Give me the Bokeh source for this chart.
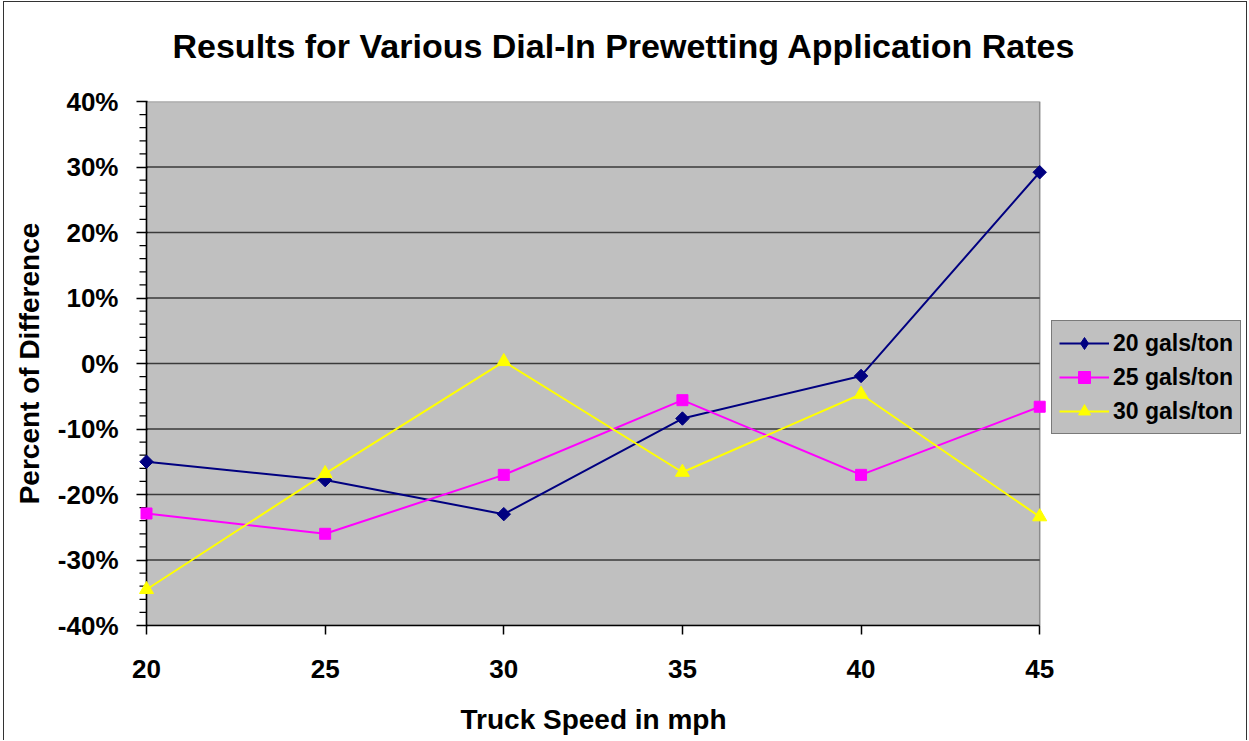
import math
from bokeh.plotting import figure
from bokeh.models import Range1d, FixedTicker, PrintfTickFormatter, Legend, LegendItem, Title, ColumnDataSource
from bokeh.embed import file_html
from bokeh.resources import INLINE

# ---- data ----
speeds = [20, 25, 30, 35, 40, 45]
rate_20 = [-15.0, -17.8, -23.0, -8.4, -1.9, 29.2]
rate_25 = [-22.9, -26.0, -17.0, -5.6, -17.0, -6.6]
rate_30 = [-34.5, -16.8, 0.3, -16.6, -4.7, -23.4]
series_labels = ["20 gals/ton", "25 gals/ton", "30 gals/ton"]
y_ticks = [-40, -30, -20, -10, 0, 10, 20, 30, 40]
y_minor_ticks = [v for v in range(-40, 41, 2) if v not in y_ticks]
x_ticks = speeds
title_text = "Results for Various Dial-In Prewetting Application Rates"
x_label = "Truck Speed in mph"
y_label = "Percent of Difference"

FONT = "Liberation Sans"
x_min, x_max = x_ticks[0], x_ticks[-1]
y_min, y_max = y_ticks[0], y_ticks[-1]
pad = 0.28          # room so edge markers are not cut
x_end = 50.76       # frame extends right so the legend sits inside it
minor_len = 0.196   # minor tick length in x data units (~7px)

p = figure(width=1244, height=739, output_backend="svg", toolbar_location=None, title=None,
           x_range=Range1d(x_min - pad, x_end), y_range=Range1d(y_min, y_max),
           min_border_left=132, min_border_right=3, min_border_top=99, min_border_bottom=116,
           background_fill_color="white", border_fill_color="white")
p.outline_line_color = None
p.xgrid.grid_line_color = None
p.ygrid.grid_line_color = None
p.styles = {"border-left": "1.5px solid #333333", "border-top": "1.5px solid #333333",
            "border-right": "1.5px solid #333333", "margin-left": "3px", "margin-top": "1px"}

# plot area background
p.quad(left=[x_min], right=[x_max], bottom=[y_min], top=[y_max],
       fill_color="#C0C0C0", line_color="#8c8c8c", line_width=1.5)
# gridlines
grid_y = y_ticks[1:-1]
p.segment(x0=[x_min] * len(grid_y), x1=[x_max] * len(grid_y), y0=grid_y, y1=grid_y,
          line_color="#3a3a3a", line_width=1.3)
# y axis line and minor ticks at x_min
p.segment(x0=[x_min], x1=[x_min], y0=[y_min], y1=[y_max], line_color="black", line_width=1.5)
p.segment(x0=[x_min - minor_len] * len(y_minor_ticks), x1=[x_min] * len(y_minor_ticks),
          y0=y_minor_ticks, y1=y_minor_ticks, line_color="black", line_width=1.2)

colors = ["#000080", "#FF00FF", "#FFFF00"]
markers = ["square", "square", "triangle"]
legend_markers = ["diamond", "square", "triangle"]
sizes = [9.5, 11, 14]
legend_sizes = [15, 11, 14]
angles = [math.pi / 4, 0, 0]
nan = float("nan")
legend_src = ColumnDataSource(data=dict(x=[nan], y=[nan]))
items = []
for vals, lab, c, m, lm, s, ls, a in zip([rate_20, rate_25, rate_30], series_labels, colors,
                                         markers, legend_markers, sizes, legend_sizes, angles):
    lr = p.line(speeds, vals, line_color=c, line_width=2)
    p.scatter(speeds, vals, marker=m, size=s, angle=a, fill_color=c, line_color=c)
    lg = p.scatter("x", "y", source=legend_src, marker=lm, size=ls, fill_color=c, line_color=c)
    items.append(LegendItem(label=lab, renderers=[lr, lg]))

legend = Legend(items=items, location=(915, 191), background_fill_color="#C0C0C0",
                background_fill_alpha=1.0, border_line_color="#333333", border_line_width=1.5,
                label_text_font=FONT, label_text_font_style="bold", label_text_font_size="23px",
                label_text_color="black", glyph_width=50, glyph_height=30, label_height=30,
                label_standoff=4, spacing=4, padding=7, margin=0)
p.add_layout(legend, "center")

# axes
p.xaxis.ticker = FixedTicker(ticks=x_ticks)
p.xaxis.bounds = (x_min, x_max)
p.yaxis.ticker = FixedTicker(ticks=y_ticks)
p.yaxis.formatter = PrintfTickFormatter(format="%d%%")
for ax in (p.xaxis, p.yaxis):
    ax.axis_line_color = "black"
    ax.axis_line_width = 1.5
    ax.major_tick_line_color = "black"
    ax.major_tick_line_width = 1.5
    ax.minor_tick_line_color = None
    ax.major_label_text_font = FONT
    ax.major_label_text_font_style = "bold"
    ax.major_label_text_font_size = "26px"
    ax.major_label_text_color = "black"
    ax.axis_label_text_font = FONT
    ax.axis_label_text_font_style = "bold"
    ax.axis_label_text_font_size = "28px"
    ax.axis_label_text_color = "black"
p.xaxis.major_tick_in = 0
p.xaxis.major_tick_out = 9
p.xaxis.major_label_standoff = 25
p.yaxis.axis_line_color = None
p.yaxis.major_tick_out = 0
p.yaxis.major_tick_in = 11
p.yaxis.major_label_standoff = 18
p.yaxis.axis_label = y_label
p.yaxis.axis_label_standoff = 10

# below: spacer then x label
p.add_layout(Title(text=" ", text_font_size="1px", standoff=16), "below")
p.add_layout(Title(text=x_label, text_font=FONT, text_font_style="bold",
                   text_font_size="28px", text_color="black", align="left",
                   offset=324, standoff=4), "below")

# above: spacer then main title
p.add_layout(Title(text=" ", text_font_size="1px", standoff=32), "above")
p.add_layout(Title(text=title_text, text_font=FONT, text_font_style="bold",
                   text_font_size="34px", text_color="black", align="left",
                   offset=36, standoff=4), "above")

open("out.html", "w").write(file_html(p, INLINE))
